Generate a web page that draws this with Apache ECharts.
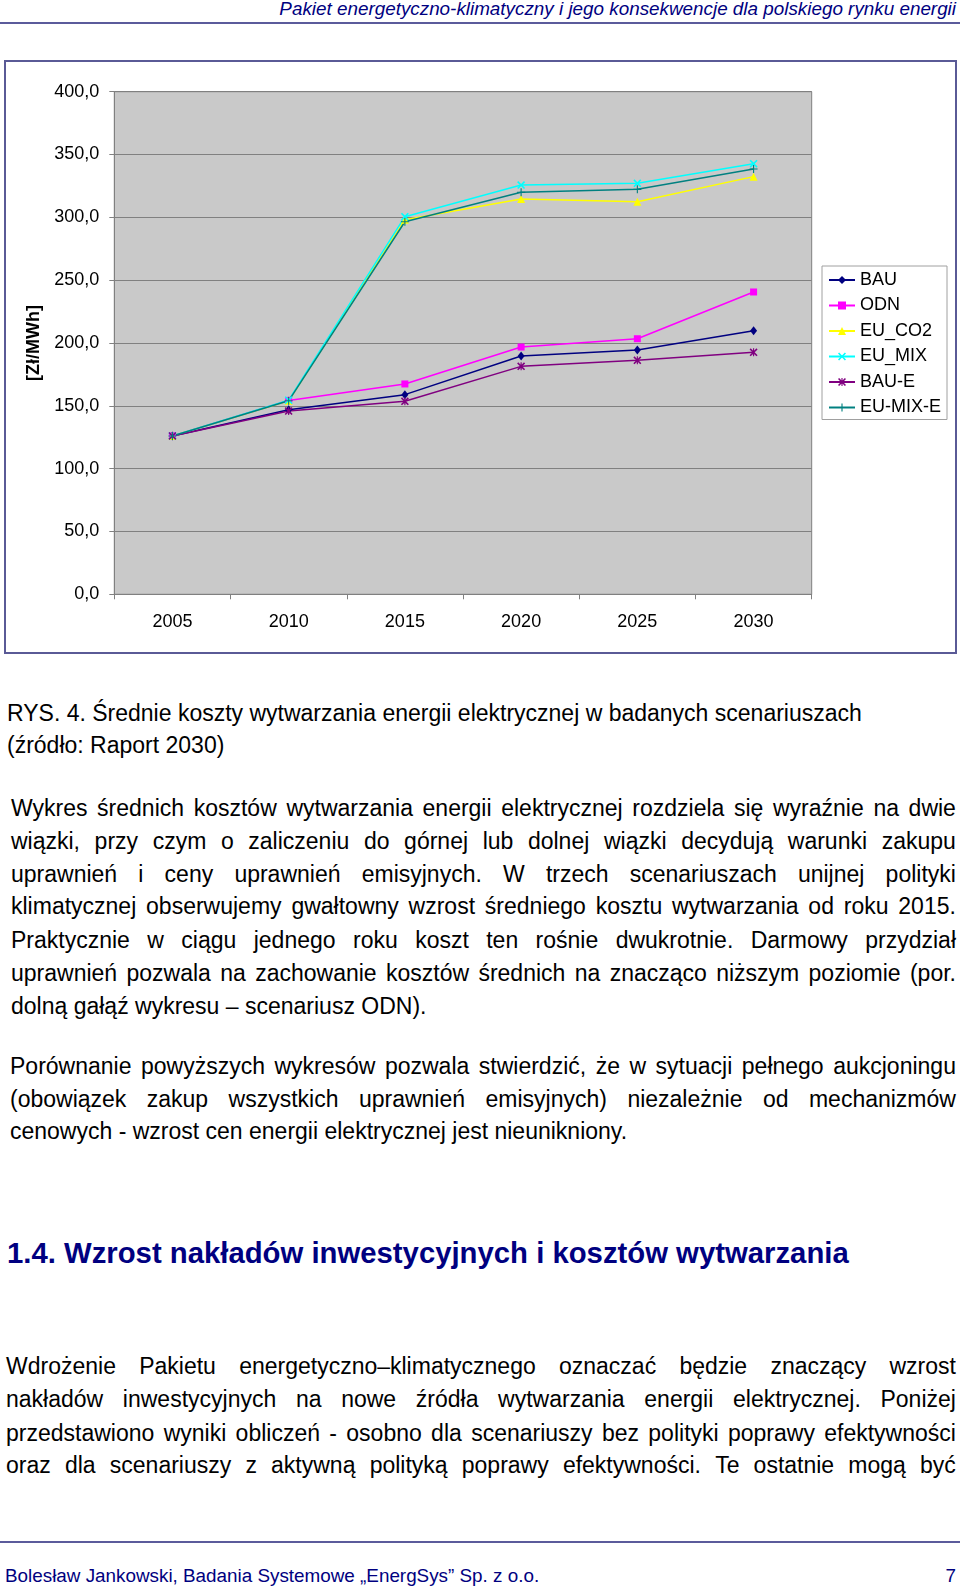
<!DOCTYPE html>
<html>
<head>
<meta charset="utf-8">
<script src="https://cdn.jsdelivr.net/npm/echarts@6/dist/echarts.min.js"></script>
<style>
  html, body { margin: 0; padding: 0; background: #fff; }
  body {
    width: 960px; height: 1589px; position: relative; overflow: hidden;
    font-family: "Liberation Sans", Arial, sans-serif;
  }
  #chart { position: absolute; left: 0; top: 0; width: 960px; height: 670px; }
  .ln { position: absolute; white-space: nowrap; font-size: 23px; line-height: 30px; height: 30px; color: #000; }
  .just { display: flex; justify-content: space-between; }
  .navy { color: #000080; }
  .rule { position: absolute; left: 0; width: 960px; height: 2px; background: #5b5b9b; }
</style>
</head>
<body>
<div class="ln navy" style="right:4px; top:-6px; font-size:18.85px; font-style:italic;">Pakiet energetyczno-klimatyczny i jego konsekwencje dla polskiego rynku energii</div>
<div class="rule" style="top:22px;"></div>

<div id="chart"></div>

<div id="text"></div>

<div class="rule" style="top:1541px;"></div>
<div class="ln navy" style="left:5px; top:1561px; font-size:18.85px;">Bolesław Jankowski, Badania Systemowe „EnergSys” Sp. z o.o.</div>
<div class="ln navy" style="right:4px; top:1561px; font-size:18.85px;">7</div>

<script>
// dane wykresu
var years = ['2005', '2010', '2015', '2020', '2025', '2030'];
var seriesNames = ['BAU', 'ODN', 'EU_CO2', 'EU_MIX', 'BAU-E', 'EU-MIX-E'];
var bau    = [126.0, 146.8, 158.9, 189.6, 194.4, 209.8];
var odn    = [126.0, 154.3, 167.4, 196.8, 203.4, 240.6];
var euCo2  = [126.0, 154.0, 298.0, 314.6, 312.5, 332.4];
var euMix  = [126.0, 154.5, 300.5, 325.7, 327.1, 342.7];
var bauE   = [126.0, 145.8, 153.6, 181.4, 186.2, 192.6];
var euMixE = [126.0, 154.0, 296.5, 319.9, 322.3, 338.5];
var yTicks = [0, 50, 100, 150, 200, 250, 300, 350, 400];

var FONT = '"Liberation Sans", Arial, sans-serif';

// markery w stylu Excela
var crossPath = 'path://M0,1.4L1.4,0L5,3.6L8.6,0L10,1.4L6.4,5L10,8.6L8.6,10L5,6.4L1.4,10L0,8.6L3.6,5Z';
var plusPath = 'path://M4.3,0H5.7V4.3H10V5.7H5.7V10H4.3V5.7H0V4.3H4.3Z';
var starPath = 'path://M0,1.4L1.4,0L5,3.6L8.6,0L10,1.4L6.4,5L10,8.6L8.6,10L5,6.4L1.4,10L0,8.6L3.6,5Z M4.3,0H5.7V10H4.3Z';

function line(name, data, color, symbol, size) {
  return {
    name: name,
    type: 'line',
    data: data,
    symbol: symbol,
    symbolSize: size,
    showSymbol: true,
    color: color,
    lineStyle: { width: 1.5, color: color },
    itemStyle: { color: color },
    emphasis: { disabled: true }
  };
}

var chart = echarts.init(document.getElementById('chart'));
chart.setOption({
  animation: false,
  textStyle: { fontFamily: FONT },
  grid: {
    left: 114.3, top: 91.7, width: 697.4, height: 502.6,
    show: true, backgroundColor: '#c9c9c9', borderColor: '#808080', borderWidth: 1
  },
  legend: {
    orient: 'vertical',
    left: 822, top: 266,
    padding: [5, 6, 3, 6],
    itemWidth: 26, itemHeight: 10, itemGap: 7.5,
    backgroundColor: '#fff', borderColor: '#a0a0a0', borderWidth: 1,
    textStyle: { fontSize: 18, color: '#000', lineHeight: 18, fontFamily: FONT },
    data: seriesNames
  },
  xAxis: {
    type: 'category',
    data: years,
    boundaryGap: true,
    axisLine: { lineStyle: { color: '#808080' } },
    axisTick: { show: true, interval: 0, length: 5, lineStyle: { color: '#808080' } },
    axisLabel: { fontSize: 18, color: '#000', margin: 19, interval: 0 },
    splitLine: { show: false }
  },
  yAxis: {
    type: 'value',
    min: yTicks[0], max: yTicks[yTicks.length - 1], interval: 50,
    name: '[Zł/MWh]',
    nameLocation: 'middle', nameRotate: 90, nameGap: 69,
    nameTextStyle: { fontWeight: 'bold', fontSize: 18, color: '#000' },
    axisLine: { show: true, lineStyle: { color: '#808080' } },
    axisTick: { show: true, length: 5, lineStyle: { color: '#808080' } },
    axisLabel: {
      fontSize: 18, color: '#000', margin: 15,
      formatter: function (v) { return v.toFixed(1).replace('.', ','); }
    },
    splitLine: { lineStyle: { color: '#808080' } }
  },
  graphic: [{
    type: 'rect', silent: true, z: -1,
    shape: { x: 5, y: 61, width: 951, height: 592 },
    style: { fill: 'none', stroke: '#5a5a96', lineWidth: 2 }
  }],
  series: [
    line('BAU', bau, '#000080', 'diamond', [7, 9]),
    line('ODN', odn, '#ff00ff', 'rect', 7),
    line('EU_CO2', euCo2, '#ffff00', 'triangle', 8),
    line('EU_MIX', euMix, '#00ffff', crossPath, 8),
    line('BAU-E', bauE, '#800080', starPath, 8),
    line('EU-MIX-E', euMixE, '#008080', plusPath, 8)
  ]
});

// tekst strony
var lines = [
  { t: 'RYS. 4. Średnie koszty wytwarzania energii elektrycznej w badanych scenariuszach', y: 713, x: 7 },
  { t: '(źródło: Raport 2030)', y: 745, x: 7 },

  { t: 'Wykres średnich kosztów wytwarzania energii elektrycznej rozdziela się wyraźnie na dwie', y: 808, x: 11, j: true },
  { t: 'wiązki, przy czym o zaliczeniu do górnej lub dolnej wiązki decydują warunki zakupu', y: 840.5, x: 11, j: true },
  { t: 'uprawnień i ceny uprawnień emisyjnych. W trzech scenariuszach unijnej polityki', y: 874, x: 11, j: true },
  { t: 'klimatycznej obserwujemy gwałtowny wzrost średniego kosztu wytwarzania od roku 2015.', y: 906, x: 11, j: true },
  { t: 'Praktycznie w ciągu jednego roku koszt ten rośnie dwukrotnie. Darmowy przydział', y: 940, x: 11, j: true },
  { t: 'uprawnień pozwala na zachowanie kosztów średnich na znacząco niższym poziomie (por.', y: 973, x: 11, j: true },
  { t: 'dolną gałąź wykresu – scenariusz ODN).', y: 1005.5, x: 11 },

  { t: 'Porównanie powyższych wykresów pozwala stwierdzić, że w sytuacji pełnego aukcjoningu', y: 1065.5, x: 10, j: true },
  { t: '(obowiązek zakup wszystkich uprawnień emisyjnych) niezależnie od mechanizmów', y: 1099, x: 10, j: true },
  { t: 'cenowych - wzrost cen energii elektrycznej jest nieunikniony.', y: 1131, x: 10 },

  { t: '1.4. Wzrost nakładów inwestycyjnych i kosztów wytwarzania', y: 1253, x: 7, h: true },

  { t: 'Wdrożenie Pakietu energetyczno–klimatycznego oznaczać będzie znaczący wzrost', y: 1365.5, x: 6, j: true },
  { t: 'nakładów inwestycyjnych na nowe źródła wytwarzania energii elektrycznej. Poniżej', y: 1399, x: 6, j: true },
  { t: 'przedstawiono wyniki obliczeń - osobno dla scenariuszy bez polityki poprawy efektywności', y: 1432.5, x: 6, j: true },
  { t: 'oraz dla scenariuszy z aktywną polityką poprawy efektywności. Te ostatnie mogą być', y: 1465, x: 6, j: true }
];

var host = document.getElementById('text');
lines.forEach(function (l) {
  var d = document.createElement('div');
  d.className = 'ln';
  d.style.left = l.x + 'px';
  d.style.top = (l.y - 15) + 'px';
  if (l.h) {
    d.className += ' navy';
    d.style.fontSize = '29.3px';
    d.style.fontWeight = 'bold';
  }
  if (l.j) {
    d.className += ' just';
    d.style.width = (956 - l.x) + 'px';
    l.t.split(' ').forEach(function (w) {
      var s = document.createElement('span');
      s.textContent = w;
      d.appendChild(s);
    });
  } else {
    d.textContent = l.t;
  }
  host.appendChild(d);
});
</script>
</body>
</html>
